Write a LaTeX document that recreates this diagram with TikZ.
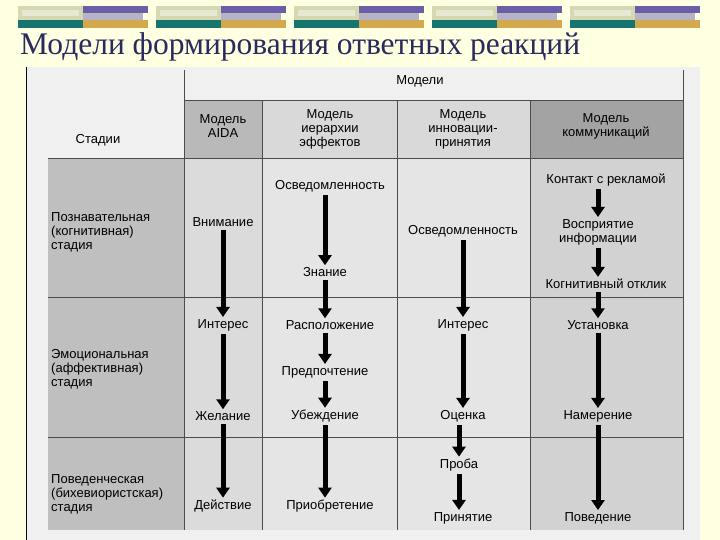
\documentclass[tikz,border=0pt]{standalone}
\usepackage{fontspec}
\setmainfont{Liberation Sans}
\newfontfamily\titlefont{Liberation Serif}
\usetikzlibrary{arrows.meta}
\definecolor{bgy}{HTML}{FFFFE2}
\definecolor{ttl}{HTML}{2A2A5E}
\definecolor{pale}{HTML}{D6D8B2}
\definecolor{tealc}{HTML}{16766F}
\definecolor{purp}{HTML}{6A5FA6}
\definecolor{lilac}{HTML}{B7B3C6}
\definecolor{gold}{HTML}{D2A94E}
\tikzset{
  t/.style={font=\fontsize{13}{14}\selectfont, inner sep=1pt, align=center},
  st/.style={font=\fontsize{13}{14}\selectfont, inner sep=1pt, align=left, anchor=west},
  arr/.style={line width=5pt, -{Triangle[width=13pt,length=10pt]}, shorten <=2pt, shorten >=1pt},
  grid/.style={draw=black!70, line width=0.7pt}
}
\begin{document}
\begin{tikzpicture}[x=1pt,y=-1pt]
\useasboundingbox (0,0) rectangle (720,540);
\fill[bgy] (0,0) rectangle (720,540);
% header bars
\foreach \x in {18,156,294,432,570}{
  \fill[pale] (\x,6) rectangle ++(65,14);
  \fill[pale!60!white] (\x+4,10) rectangle ++(57,6);
  \fill[tealc] (\x,20) rectangle ++(65,8);
  \fill[purp] (\x+65,6) rectangle ++(65,7);
  \fill[lilac] (\x+65,13) rectangle ++(60,7);
  \fill[gold] (\x+65,20) rectangle ++(65,8);
}
\node[anchor=base west, text=ttl, font=\titlefont\fontsize{31.5}{33}\selectfont, inner sep=0] (title) at (20,55) {Модели формирования ответных реакций};
% scanned table area
\fill[gray!12] (26,67) rectangle (700,540);
\draw[black, line width=1pt] (26,67) -- (26,540);
% cells
\fill[gray!50] (48,158) rectangle (184,530);
\fill[gray!55] (184,100) rectangle (262,158);
\fill[gray!30] (262,100) rectangle (530,158);
\fill[gray!72] (530,100) rectangle (683,158);
\fill[gray!28] (184,158) rectangle (262,530);
\fill[gray!20] (262,158) rectangle (530,530);
\fill[gray!35] (530,158) rectangle (683,530);
\draw[grid] (184,70) -- (184,530) (262,100) -- (262,530) (397,100) -- (397,530) (530,100) -- (530,530) (683,70) -- (683,530);
\draw[grid] (184,100) -- (683,100) (48,158) -- (683,158) (48,297) -- (683,297) (48,437) -- (683,437);
% headers
\node[t] (models) at (420,81) {Модели};
\node[t] (stages) at (98,140) {Стадии};
\node[t] (haida) at (223,126) {Модель\\AIDA};
\node[t] (hhier) at (330,129) {Модель\\иерархии\\эффектов};
\node[t] (hinno) at (463,129) {Модель\\инновации-\\принятия};
\node[t] (hcomm) at (606,126) {Модель\\коммуникаций};
% stages
\node[st] (s1) at (50,232) {Познавательная\\(когнитивная)\\стадия};
\node[st] (s2) at (50,369) {Эмоциональная\\(аффективная)\\стадия};
\node[st] (s3) at (50,494) {Поведенческая\\(бихевиористская)\\стадия};
% AIDA
\node[t] (a1) at (223,222) {Внимание};
\node[t] (a2) at (223,325) {Интерес};
\node[t] (a3) at (223,416) {Желание};
\node[t] (a4) at (223,506) {Действие};
\draw[arr] (a1) -- (a2); \draw[arr] (a2) -- (a3); \draw[arr] (a3) -- (a4);
% hierarchy
\node[t] (h1) at (330,186) {Осведомленность};
\node[t] (h2) at (325,272) {Знание};
\node[t] (h3) at (330,325) {Расположение};
\node[t] (h4) at (325,372) {Предпочтение};
\node[t] (h5) at (325,416) {Убеждение};
\node[t] (h6) at (330,506) {Приобретение};
\draw[arr] (h1.south -| h2) -- (h2); \draw[arr] (h2) -- (h3.north -| h2); \draw[arr] (h3.south -| h4) -- (h4);
\draw[arr] (h4) -- (h5); \draw[arr] (h5) -- (h6.north -| h5);
% innovation
\node[t] (i1) at (463,231) {Осведомленность};
\node[t] (i2) at (463,325) {Интерес};
\node[t] (i3) at (463,416) {Оценка};
\node[t] (i4) at (459,465) {Проба};
\node[t] (i5) at (463,518) {Принятие};
\draw[arr] (i1) -- (i2); \draw[arr] (i2) -- (i3); \draw[arr] (i3.south -| i4) -- (i4); \draw[arr] (i4) -- (i5.north -| i4);
% communication
\node[t] (c1) at (606,180) {Контакт с рекламой};
\node[t] (c2) at (598,232) {Восприятие\\информации};
\node[t] (c3) at (606,284) {Когнитивный отклик};
\node[t] (c4) at (598,325) {Установка};
\node[t] (c5) at (598,416) {Намерение};
\node[t] (c6) at (598,518) {Поведение};
\draw[arr] (c1.south -| c2) -- (c2); \draw[arr] (c2) -- (c3.north -| c2); \draw[arr] (c3.south -| c4) -- (c4);
\draw[arr] (c4) -- (c5); \draw[arr] (c5) -- (c6);
\end{tikzpicture}
\end{document}
